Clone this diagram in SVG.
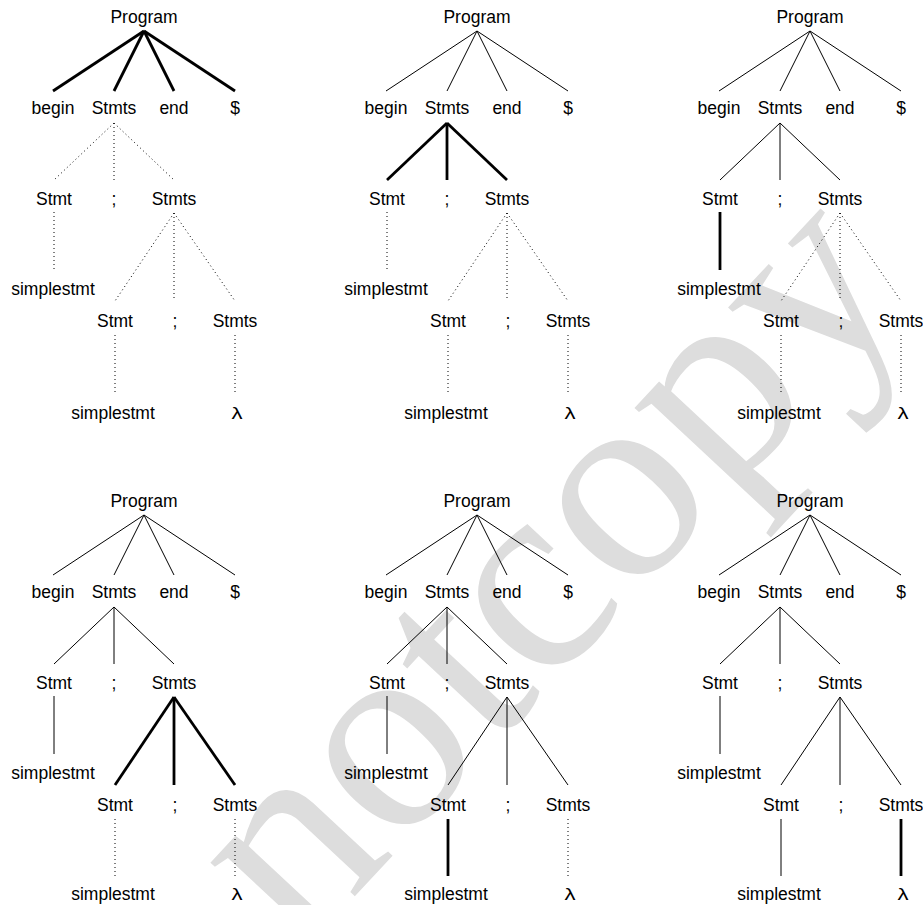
<svg xmlns="http://www.w3.org/2000/svg" width="923" height="905" viewBox="0 0 923 905">
<style>
.lbl{font-family:"Liberation Sans",Arial,sans-serif;font-size:17.5px;fill:#000;text-anchor:middle}
.lam{font-family:"Liberation Sans",Arial,sans-serif;font-size:17px;fill:#000;text-anchor:middle}
.wm{font-family:"Liberation Serif","Times New Roman",serif;font-size:280px;fill:#dddddd}
line{stroke:#000;fill:none}
.thick{stroke-width:2.8}
.thin{stroke-width:1}
.dot{stroke-width:1;stroke-dasharray:1 3}
</style>
<rect width="923" height="905" fill="#fff"/>
<text class="wm" transform="translate(300,955) rotate(-47)">notcopy</text>

<g id="tree1">
<g id="t1-edges">
<line class="thick" x1="144" y1="31" x2="53" y2="91"/>
<line class="thick" x1="144" y1="31" x2="114" y2="91"/>
<line class="thick" x1="144" y1="31" x2="174" y2="91"/>
<line class="thick" x1="144" y1="31" x2="235" y2="91"/>
<line class="dot" x1="114" y1="123" x2="54" y2="180"/>
<line class="dot" x1="114" y1="123" x2="114" y2="180"/>
<line class="dot" x1="114" y1="123" x2="174" y2="180"/>
<line class="dot" x1="54" y1="212" x2="54" y2="270"/>
<line class="dot" x1="174" y1="213" x2="115" y2="301"/>
<line class="dot" x1="174" y1="213" x2="174" y2="301"/>
<line class="dot" x1="174" y1="213" x2="235" y2="301"/>
<line class="dot" x1="115" y1="335" x2="115" y2="392"/>
<line class="dot" x1="235" y1="335" x2="235" y2="392"/>
</g>
<g id="t1-program"><text class="lbl" x="144" y="23">Program</text></g>
<g id="t1-begin"><text class="lbl" x="53" y="114">begin</text></g>
<g id="t1-stmts1"><text class="lbl" x="114" y="114">Stmts</text></g>
<g id="t1-end"><text class="lbl" x="174" y="114">end</text></g>
<g id="t1-dollar"><text class="lbl" x="235" y="114">$</text></g>
<g id="t1-stmt1"><text class="lbl" x="54" y="205">Stmt</text></g>
<g id="t1-semi1"><text class="lbl" x="114" y="205">;</text></g>
<g id="t1-stmts2"><text class="lbl" x="174" y="205">Stmts</text></g>
<g id="t1-simple1"><text class="lbl" x="53" y="295">simplestmt</text></g>
<g id="t1-stmt2"><text class="lbl" x="115" y="327">Stmt</text></g>
<g id="t1-semi2"><text class="lbl" x="175" y="327">;</text></g>
<g id="t1-stmts3"><text class="lbl" x="235" y="327">Stmts</text></g>
<g id="t1-simple2"><text class="lbl" x="113" y="419">simplestmt</text></g>
<g id="t1-lambda"><text class="lam" transform="translate(237,419) scale(1.3,1)">λ</text></g>
</g>

<g id="tree2" transform="translate(333,0)">
<g id="t2-edges">
<line class="thin" x1="144" y1="31" x2="53" y2="91"/>
<line class="thin" x1="144" y1="31" x2="114" y2="91"/>
<line class="thin" x1="144" y1="31" x2="174" y2="91"/>
<line class="thin" x1="144" y1="31" x2="235" y2="91"/>
<line class="thick" x1="114" y1="123" x2="54" y2="180"/>
<line class="thick" x1="114" y1="123" x2="114" y2="180"/>
<line class="thick" x1="114" y1="123" x2="174" y2="180"/>
<line class="dot" x1="54" y1="212" x2="54" y2="270"/>
<line class="dot" x1="174" y1="213" x2="115" y2="301"/>
<line class="dot" x1="174" y1="213" x2="174" y2="301"/>
<line class="dot" x1="174" y1="213" x2="235" y2="301"/>
<line class="dot" x1="115" y1="335" x2="115" y2="392"/>
<line class="dot" x1="235" y1="335" x2="235" y2="392"/>
</g>
<g id="t2-program"><text class="lbl" x="144" y="23">Program</text></g>
<g id="t2-begin"><text class="lbl" x="53" y="114">begin</text></g>
<g id="t2-stmts1"><text class="lbl" x="114" y="114">Stmts</text></g>
<g id="t2-end"><text class="lbl" x="174" y="114">end</text></g>
<g id="t2-dollar"><text class="lbl" x="235" y="114">$</text></g>
<g id="t2-stmt1"><text class="lbl" x="54" y="205">Stmt</text></g>
<g id="t2-semi1"><text class="lbl" x="114" y="205">;</text></g>
<g id="t2-stmts2"><text class="lbl" x="174" y="205">Stmts</text></g>
<g id="t2-simple1"><text class="lbl" x="53" y="295">simplestmt</text></g>
<g id="t2-stmt2"><text class="lbl" x="115" y="327">Stmt</text></g>
<g id="t2-semi2"><text class="lbl" x="175" y="327">;</text></g>
<g id="t2-stmts3"><text class="lbl" x="235" y="327">Stmts</text></g>
<g id="t2-simple2"><text class="lbl" x="113" y="419">simplestmt</text></g>
<g id="t2-lambda"><text class="lam" transform="translate(237,419) scale(1.3,1)">λ</text></g>
</g>

<g id="tree3" transform="translate(666,0)">
<g id="t3-edges">
<line class="thin" x1="144" y1="31" x2="53" y2="91"/>
<line class="thin" x1="144" y1="31" x2="114" y2="91"/>
<line class="thin" x1="144" y1="31" x2="174" y2="91"/>
<line class="thin" x1="144" y1="31" x2="235" y2="91"/>
<line class="thin" x1="114" y1="123" x2="54" y2="180"/>
<line class="thin" x1="114" y1="123" x2="114" y2="180"/>
<line class="thin" x1="114" y1="123" x2="174" y2="180"/>
<line class="thick" x1="54" y1="212" x2="54" y2="270"/>
<line class="dot" x1="174" y1="213" x2="115" y2="301"/>
<line class="dot" x1="174" y1="213" x2="174" y2="301"/>
<line class="dot" x1="174" y1="213" x2="235" y2="301"/>
<line class="dot" x1="115" y1="335" x2="115" y2="392"/>
<line class="dot" x1="235" y1="335" x2="235" y2="392"/>
</g>
<g id="t3-program"><text class="lbl" x="144" y="23">Program</text></g>
<g id="t3-begin"><text class="lbl" x="53" y="114">begin</text></g>
<g id="t3-stmts1"><text class="lbl" x="114" y="114">Stmts</text></g>
<g id="t3-end"><text class="lbl" x="174" y="114">end</text></g>
<g id="t3-dollar"><text class="lbl" x="235" y="114">$</text></g>
<g id="t3-stmt1"><text class="lbl" x="54" y="205">Stmt</text></g>
<g id="t3-semi1"><text class="lbl" x="114" y="205">;</text></g>
<g id="t3-stmts2"><text class="lbl" x="174" y="205">Stmts</text></g>
<g id="t3-simple1"><text class="lbl" x="53" y="295">simplestmt</text></g>
<g id="t3-stmt2"><text class="lbl" x="115" y="327">Stmt</text></g>
<g id="t3-semi2"><text class="lbl" x="175" y="327">;</text></g>
<g id="t3-stmts3"><text class="lbl" x="235" y="327">Stmts</text></g>
<g id="t3-simple2"><text class="lbl" x="113" y="419">simplestmt</text></g>
<g id="t3-lambda"><text class="lam" transform="translate(237,419) scale(1.3,1)">λ</text></g>
</g>

<g id="tree4" transform="translate(0,484)">
<g id="t4-edges">
<line class="thin" x1="144" y1="31" x2="53" y2="91"/>
<line class="thin" x1="144" y1="31" x2="114" y2="91"/>
<line class="thin" x1="144" y1="31" x2="174" y2="91"/>
<line class="thin" x1="144" y1="31" x2="235" y2="91"/>
<line class="thin" x1="114" y1="123" x2="54" y2="180"/>
<line class="thin" x1="114" y1="123" x2="114" y2="180"/>
<line class="thin" x1="114" y1="123" x2="174" y2="180"/>
<line class="thin" x1="54" y1="212" x2="54" y2="270"/>
<line class="thick" x1="174" y1="213" x2="115" y2="301"/>
<line class="thick" x1="174" y1="213" x2="174" y2="301"/>
<line class="thick" x1="174" y1="213" x2="235" y2="301"/>
<line class="dot" x1="115" y1="335" x2="115" y2="392"/>
<line class="dot" x1="235" y1="335" x2="235" y2="392"/>
</g>
<g id="t4-program"><text class="lbl" x="144" y="23">Program</text></g>
<g id="t4-begin"><text class="lbl" x="53" y="114">begin</text></g>
<g id="t4-stmts1"><text class="lbl" x="114" y="114">Stmts</text></g>
<g id="t4-end"><text class="lbl" x="174" y="114">end</text></g>
<g id="t4-dollar"><text class="lbl" x="235" y="114">$</text></g>
<g id="t4-stmt1"><text class="lbl" x="54" y="205">Stmt</text></g>
<g id="t4-semi1"><text class="lbl" x="114" y="205">;</text></g>
<g id="t4-stmts2"><text class="lbl" x="174" y="205">Stmts</text></g>
<g id="t4-simple1"><text class="lbl" x="53" y="295">simplestmt</text></g>
<g id="t4-stmt2"><text class="lbl" x="115" y="327">Stmt</text></g>
<g id="t4-semi2"><text class="lbl" x="175" y="327">;</text></g>
<g id="t4-stmts3"><text class="lbl" x="235" y="327">Stmts</text></g>
<g id="t4-simple2"><text class="lbl" x="113" y="416">simplestmt</text></g>
<g id="t4-lambda"><text class="lam" transform="translate(237,416) scale(1.3,1)">λ</text></g>
</g>

<g id="tree5" transform="translate(333,484)">
<g id="t5-edges">
<line class="thin" x1="144" y1="31" x2="53" y2="91"/>
<line class="thin" x1="144" y1="31" x2="114" y2="91"/>
<line class="thin" x1="144" y1="31" x2="174" y2="91"/>
<line class="thin" x1="144" y1="31" x2="235" y2="91"/>
<line class="thin" x1="114" y1="123" x2="54" y2="180"/>
<line class="thin" x1="114" y1="123" x2="114" y2="180"/>
<line class="thin" x1="114" y1="123" x2="174" y2="180"/>
<line class="thin" x1="54" y1="212" x2="54" y2="270"/>
<line class="thin" x1="174" y1="213" x2="115" y2="301"/>
<line class="thin" x1="174" y1="213" x2="174" y2="301"/>
<line class="thin" x1="174" y1="213" x2="235" y2="301"/>
<line class="thick" x1="115" y1="335" x2="115" y2="392"/>
<line class="dot" x1="235" y1="335" x2="235" y2="392"/>
</g>
<g id="t5-program"><text class="lbl" x="144" y="23">Program</text></g>
<g id="t5-begin"><text class="lbl" x="53" y="114">begin</text></g>
<g id="t5-stmts1"><text class="lbl" x="114" y="114">Stmts</text></g>
<g id="t5-end"><text class="lbl" x="174" y="114">end</text></g>
<g id="t5-dollar"><text class="lbl" x="235" y="114">$</text></g>
<g id="t5-stmt1"><text class="lbl" x="54" y="205">Stmt</text></g>
<g id="t5-semi1"><text class="lbl" x="114" y="205">;</text></g>
<g id="t5-stmts2"><text class="lbl" x="174" y="205">Stmts</text></g>
<g id="t5-simple1"><text class="lbl" x="53" y="295">simplestmt</text></g>
<g id="t5-stmt2"><text class="lbl" x="115" y="327">Stmt</text></g>
<g id="t5-semi2"><text class="lbl" x="175" y="327">;</text></g>
<g id="t5-stmts3"><text class="lbl" x="235" y="327">Stmts</text></g>
<g id="t5-simple2"><text class="lbl" x="113" y="416">simplestmt</text></g>
<g id="t5-lambda"><text class="lam" transform="translate(237,416) scale(1.3,1)">λ</text></g>
</g>

<g id="tree6" transform="translate(666,484)">
<g id="t6-edges">
<line class="thin" x1="144" y1="31" x2="53" y2="91"/>
<line class="thin" x1="144" y1="31" x2="114" y2="91"/>
<line class="thin" x1="144" y1="31" x2="174" y2="91"/>
<line class="thin" x1="144" y1="31" x2="235" y2="91"/>
<line class="thin" x1="114" y1="123" x2="54" y2="180"/>
<line class="thin" x1="114" y1="123" x2="114" y2="180"/>
<line class="thin" x1="114" y1="123" x2="174" y2="180"/>
<line class="thin" x1="54" y1="212" x2="54" y2="270"/>
<line class="thin" x1="174" y1="213" x2="115" y2="301"/>
<line class="thin" x1="174" y1="213" x2="174" y2="301"/>
<line class="thin" x1="174" y1="213" x2="235" y2="301"/>
<line class="thin" x1="115" y1="335" x2="115" y2="392"/>
<line class="thick" x1="235" y1="335" x2="235" y2="392"/>
</g>
<g id="t6-program"><text class="lbl" x="144" y="23">Program</text></g>
<g id="t6-begin"><text class="lbl" x="53" y="114">begin</text></g>
<g id="t6-stmts1"><text class="lbl" x="114" y="114">Stmts</text></g>
<g id="t6-end"><text class="lbl" x="174" y="114">end</text></g>
<g id="t6-dollar"><text class="lbl" x="235" y="114">$</text></g>
<g id="t6-stmt1"><text class="lbl" x="54" y="205">Stmt</text></g>
<g id="t6-semi1"><text class="lbl" x="114" y="205">;</text></g>
<g id="t6-stmts2"><text class="lbl" x="174" y="205">Stmts</text></g>
<g id="t6-simple1"><text class="lbl" x="53" y="295">simplestmt</text></g>
<g id="t6-stmt2"><text class="lbl" x="115" y="327">Stmt</text></g>
<g id="t6-semi2"><text class="lbl" x="175" y="327">;</text></g>
<g id="t6-stmts3"><text class="lbl" x="235" y="327">Stmts</text></g>
<g id="t6-simple2"><text class="lbl" x="113" y="416">simplestmt</text></g>
<g id="t6-lambda"><text class="lam" transform="translate(237,416) scale(1.3,1)">λ</text></g>
</g>
</svg>
